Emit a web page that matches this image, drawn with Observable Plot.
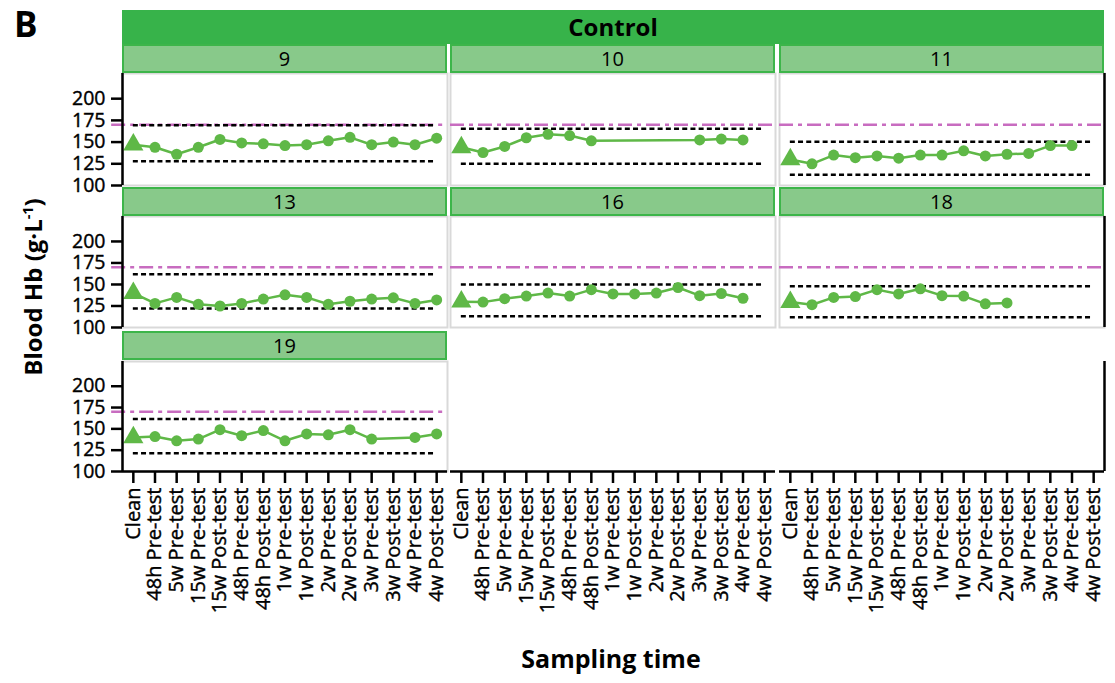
<!DOCTYPE html>
<html><head><meta charset="utf-8">
<script src="https://cdn.jsdelivr.net/npm/d3@7"></script>
<script src="https://cdn.jsdelivr.net/npm/@observablehq/plot@0.6"></script>
<style>
body{margin:0;background:#fff;}
#chart{position:relative;width:1115px;height:683px;font-family:'Open Sans',sans-serif;color:#000;overflow:hidden;background:#fff;}
.abs{position:absolute;}
.strip{position:absolute;box-sizing:border-box;background:#88c98a;border:2px solid #3db54a;display:flex;align-items:center;justify-content:center;font-size:20px;line-height:1;}
.header{position:absolute;box-sizing:border-box;background:#37b34a;display:flex;align-items:center;justify-content:center;font-size:24px;font-weight:bold;line-height:1;}
svg{overflow:visible;}
</style></head><body><div id="chart"></div><script>
// ---- data ----
const xLabels = ["Clean","48h Pre-test","5w Pre-test","15w Pre-test","15w Post-test","48h Pre-test","48h Post-test","1w Pre-test","1w Post-test","2w Pre-test","2w Post-test","3w Pre-test","3w Post-test","4w Pre-test","4w Post-test"];
const subjects = ["9","10","11","13","16","18","19"];
const hb9  = [147,144,136,144,153,149,148,146,147,151.5,155.5,147,150,147,154.5];
const hb10 = [144,138,145,155,159,157.5,151.5,null,null,null,null,152.5,153.5,152.5,null];
const hb11 = [130,125,135,132,134,131.5,135,135,140,134,136,137,146,146,null];
const hb13 = [140,128,135,127,125,128,133,138,135,127,130.5,133,134.5,128,132];
const hb16 = [130,129.5,133.5,136.5,140,136.5,144,139,139,140,146.5,137,139.5,134,null];
const hb18 = [129.5,126.5,135,136,144,139,145,137,136.5,127.5,128.5,null,null,null,null];
const hb19 = [140,141,136,138,149,142,148,136,144,143,149,138,null,140,144];
const hbSeries = [hb9, hb10, hb11, hb13, hb16, hb18, hb19];
const upperRef = [169.5,165.5,150.5,162,150,148,161.5];
const lowerRef = [128,125,112.5,122,113,112,121.5];
const normalLimit = 170;
const yTicks = [100,125,150,175,200];
const groupName = "Control";
const panelLetter = "B";
const yTitle = "Blood Hb (g·L<sup style='font-size:0.6em'>-1</sup>)";
const xTitle = "Sampling time";

// ---- style / layout ----
const green = "#5fb847", purple = "#c86cc0";
const cols = [122, 450, 779], W = 325;
const rowTop = [73, 216, 361], rowH = [112, 111, 110];
const stripTop = [44, 187, 331], stripH = 29;
const ML = 70, MR = 20, MT = 5;
const xDomain = [-0.5, xLabels.length - 0.5];
const yDomain = [100, 229];
const chart = document.getElementById("chart");

function addDiv(cls, css, html) {
  const d = document.createElement("div");
  d.className = cls; d.style.cssText = css; d.innerHTML = html;
  chart.appendChild(d); return d;
}

function makePanel(k, col, row) {
  const hasData = k < subjects.length;
  const isLeft = col === 0 && hasData;
  const isRight = col === 2;
  const isBottom = row === 2;
  const MB = isBottom ? 170 : 5;
  const marks = [];
  if (hasData) {
    const data = hbSeries[k].map((v, i) => ({i, v})).filter(d => d.v != null);
    marks.push(Plot.frame({stroke: "#d9d9d9", strokeWidth: 2}));
    marks.push(Plot.ruleY([normalLimit], {x1: col === 0 ? -1 : xDomain[0], x2: xDomain[1], stroke: purple, strokeWidth: 2.5, strokeDasharray: "14,5,4,5"}));
    marks.push(Plot.ruleY([upperRef[k], lowerRef[k]], {x1: 0, x2: xLabels.length - 1, stroke: "black", strokeWidth: 2.5, strokeDasharray: "5,3.2"}));
    marks.push(Plot.line(data, {x: "i", y: "v", stroke: green, strokeWidth: 2.5}));
    marks.push(Plot.dot(data.filter(d => d.i > 0), {x: "i", y: "v", r: 5.5, fill: green}));
    marks.push(Plot.dot(data.filter(d => d.i === 0), {x: "i", y: "v", r: 7.5, symbol: "triangle", fill: green}));
  }
  if (isLeft) {
    marks.push(Plot.ruleX([xDomain[0]], {stroke: "black", strokeWidth: 2.5}));
    marks.push(Plot.axisY({ticks: yTicks, tickSize: 11, tickPadding: 6, fontSize: 19.5, strokeWidth: 2.5, label: null}));
  }
  if (isRight) marks.push(Plot.ruleX([xDomain[1]], {stroke: "black", strokeWidth: 2.5}));
  if (isBottom) {
    marks.push(Plot.ruleY([yDomain[0]], {stroke: "black", strokeWidth: 2.5}));
    marks.push(Plot.axisX({ticks: d3.range(xLabels.length), tickFormat: i => xLabels[i], tickRotate: -90, tickSize: 12, tickPadding: 4, fontSize: 20, strokeWidth: 2.5, label: null}));
  }
  const p = Plot.plot({
    width: W + ML + MR, height: rowH[row] + MT + MB,
    marginLeft: ML, marginRight: MR, marginTop: MT, marginBottom: MB,
    x: {domain: xDomain, label: null, axis: isBottom ? undefined : null},
    y: {domain: yDomain, label: null, axis: isLeft ? undefined : null},
    style: {background: "transparent", overflow: "visible", fontFamily: "'Open Sans', sans-serif", color: "black"},
    marks
  });
  d3.select(p).selectAll("text")
    .style("fill", "black")
    .style("stroke", "black")
    .style("stroke-width", "0.4px");
  p.style.position = "absolute";
  p.style.left = (cols[col] - ML) + "px";
  p.style.top = (rowTop[row] - MT) + "px";
  p.style.maxWidth = "none";
  chart.appendChild(p);
}

for (let k = 0; k < 9; k++) makePanel(k, k % 3, Math.floor(k / 3));

// strips
addDiv("header", `left:${cols[0]}px;top:10px;width:${cols[2] + W - cols[0]}px;height:34px;`, groupName);
subjects.forEach((s, k) => {
  const col = k % 3, row = Math.floor(k / 3);
  addDiv("strip", `left:${cols[col]}px;top:${stripTop[row]}px;width:${W}px;height:${stripH}px;`, s);
});
addDiv("abs", "left:14px;top:6px;font-size:35px;font-weight:bold;line-height:1;", panelLetter);
addDiv("abs", "left:611px;top:646px;transform:translateX(-50%);font-size:25px;font-weight:bold;line-height:1;white-space:nowrap;", xTitle);
addDiv("abs", "left:33px;top:287px;transform:translate(-50%,-50%) rotate(-90deg);font-size:24px;font-weight:bold;line-height:1;white-space:nowrap;", yTitle);
</script></body></html>
